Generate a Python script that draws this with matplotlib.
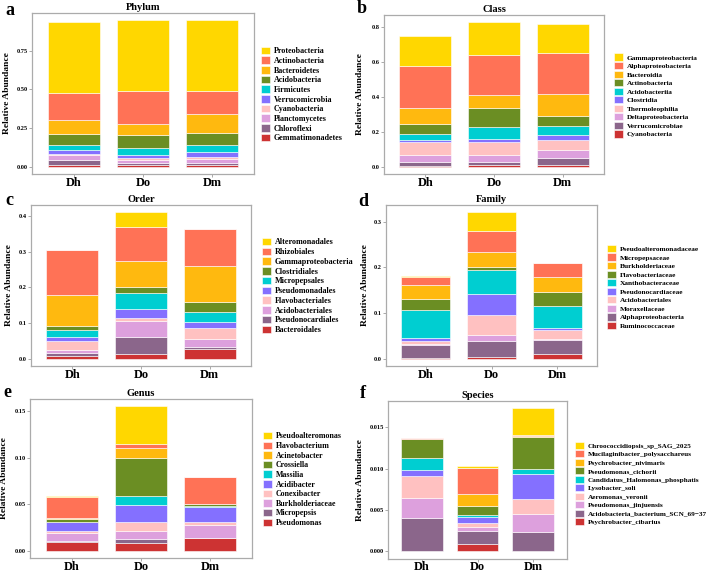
import matplotlib
matplotlib.use("Agg")
import matplotlib.pyplot as plt
import numpy as np
from matplotlib.patches import Patch
from matplotlib.ticker import FormatStrFormatter

plt.rcParams['font.family'] = ['Liberation Serif', 'DejaVu Serif']
plt.rcParams['font.weight'] = 'bold'

W, H = 709, 573
samples = ["Dh", "Do", "Dm"]
colors = ["#FFD700", "#FF7256", "#FFB90F", "#6B8E23", "#00CED1",
          "#8470FF", "#FFC1C1", "#DDA0DD", "#8B668B", "#CD3333"]

# legend order = top of stack first
phylum_taxa = ["Proteobacteria", "Actinobacteria", "Bacteroidetes", "Acidobacteria", "Firmicutes",
               "Verrucomicrobia", "Cyanobacteria", "Planctomycetes", "Chloroflexi", "Gemmatimonadetes"]
phylum_dh = [0.458, 0.172, 0.094, 0.069, 0.037, 0.024, 0.005, 0.035, 0.028, 0.013]
phylum_do = [0.458, 0.211, 0.076, 0.085, 0.042, 0.021, 0.014, 0.019, 0.013, 0.009]
phylum_dm = [0.455, 0.149, 0.128, 0.076, 0.044, 0.035, 0.013, 0.026, 0.013, 0.009]

class_taxa = ["Gammaproteobacteria", "Alphaproteobacteria", "Bacteroidia", "Actinobacteria", "Acidobacteriia",
              "Clostridia", "Thermoleophilia", "Deltaproteobacteria", "Verrucomicrobiae", "Cyanobacteria"]
class_dh = [0.169, 0.243, 0.091, 0.058, 0.033, 0.011, 0.074, 0.040, 0.028, 0.002]
class_do = [0.188, 0.230, 0.073, 0.108, 0.072, 0.015, 0.072, 0.040, 0.022, 0.008]
class_dm = [0.165, 0.235, 0.125, 0.055, 0.053, 0.028, 0.057, 0.048, 0.036, 0.013]

order_taxa = ["Alteromonadales", "Rhizobiales", "Gammaproteobacteria", "Clostridiales", "Micropepsales",
              "Pseudomonadales", "Flavobacteriales", "Acidobacteriales", "Pseudonocardiales", "Bacteroidales"]
order_dh = [0.001, 0.125, 0.088, 0.011, 0.019, 0.012, 0.026, 0.009, 0.0065, 0.0085]
order_do = [0.042, 0.096, 0.072, 0.016, 0.045, 0.025, 0.009, 0.045, 0.048, 0.013]
order_dm = [0.002, 0.104, 0.099, 0.029, 0.029, 0.017, 0.029, 0.022, 0.006, 0.028]

family_taxa = ["Pseudoalteromonadaceae", "Micropepsaceae", "Burkholderiaceae", "Flavobacteriaceae",
               "Xanthobacteraceae", "Pseudonocardiaceae", "Acidobacteriales", "Moraxellaceae",
               "Alphaproteobacteria", "Ruminococcaceae"]
family_dh = [0.001, 0.019, 0.031, 0.023, 0.061, 0.007, 0.006, 0.003, 0.028, 0.002]
family_do = [0.042, 0.046, 0.031, 0.007, 0.053, 0.047, 0.042, 0.015, 0.034, 0.004]
family_dm = [0.001, 0.030, 0.033, 0.030, 0.048, 0.005, 0.019, 0.003, 0.031, 0.010]

genus_taxa = ["Pseudoalteromonas", "Flavobacterium", "Acinetobacter", "Crossiella", "Massilia",
              "Acidibacter", "Conexibacter", "Burkholderiaceae", "Micropepsis", "Pseudomonas"]
genus_dh = [0.001, 0.023, 0.001, 0.0027, 0.0003, 0.0094, 0.0026, 0.0087, 0.0007, 0.0096]
genus_do = [0.041, 0.004, 0.011, 0.040, 0.010, 0.018, 0.010, 0.008, 0.005, 0.008]
genus_dm = [0.0005, 0.0287, 0.0003, 0.0025, 0.001, 0.0155, 0.003, 0.014, 0.0005, 0.0135]

species_taxa = ["Chroococcidiopsis_sp_SAG_2025", "Mucilaginibacter_polysacchareus", "Psychrobacter_nivimaris",
                "Pseudomonas_cichorii", "Candidatus_Halomonas_phosphatis", "Lysobacter_soli",
                "Aeromonas_veronii", "Pseudomonas_jinjuensis", "Acidobacteria_bacterium_SCN_69\u221237",
                "Psychrobacter_cibarius"]
species_dh = [0.00002, 0.00005, 0.00001, 0.0023, 0.00142, 0.00075, 0.0027, 0.00246, 0.00394, 0.00003]
species_do = [0.00026, 0.0032, 0.0014, 0.00113, 0.00027, 0.00065, 0.00055, 0.0005, 0.00153, 0.00087]
species_dm = [0.00321, 0.0002, 0.00002, 0.00397, 0.00059, 0.00298, 0.00179, 0.00218, 0.00234, 0.00001]

panels = [
    # letter, title, taxa, values, ticks, fmt, axes box px, legend (x, ycenter) px, legend font,
    # ylabel x px, letter pos px
    ("a", "Phylum", phylum_taxa, [phylum_dh, phylum_do, phylum_dm], [0, 0.25, 0.5, 0.75], "%.2f",
     (32, 13, 254, 174), (261, 94.5), 5.8, 7, (5, 15)),
    ("b", "Class", class_taxa, [class_dh, class_do, class_dm], [0, 0.2, 0.4, 0.6, 0.8], "%.1f",
     (384, 15, 604, 174), (614, 95.5), 5.3, 360, (357, 13)),
    ("c", "Order", order_taxa, [order_dh, order_do, order_dm], [0, 0.1, 0.2, 0.3, 0.4], "%.1f",
     (31, 205, 251, 366), (262, 286), 5.9, 9, (5, 205)),
    ("d", "Family", family_taxa, [family_dh, family_do, family_dm], [0, 0.1, 0.2, 0.3], "%.1f",
     (386, 205, 597, 366), (607, 287), 5.3, 365, (358, 206)),
    ("e", "Genus", genus_taxa, [genus_dh, genus_do, genus_dm], [0, 0.05, 0.10, 0.15], "%.2f",
     (30, 399, 252, 558), (263, 479.5), 5.7, 4.5, (3, 397)),
    ("f", "Species", species_taxa, [species_dh, species_do, species_dm], [0, 0.005, 0.010, 0.015], "%.3f",
     (388, 401, 567, 558.5), (575, 483.5), 5.2, 360, (360, 398)),
]

fig = plt.figure(figsize=(W / 100, H / 100), dpi=100)

for letter, title, taxa, values, ticks, fmt, box, leg, lfs, ylab_x, let_pos in panels:
    x0, y0, x1, y1 = box
    ax = fig.add_axes([x0 / W, 1 - y1 / H, (x1 - x0) / W, (y1 - y0) / H])
    vals = np.array(values)
    x = np.arange(1, 4)
    bottom = np.zeros(3)
    for k in range(len(taxa) - 1, -1, -1):
        ax.bar(x, vals[:, k], 0.75, bottom=bottom, color=colors[k], edgecolor="white", linewidth=0.4)
        bottom += vals[:, k]
    top = bottom.max()
    ax.set_ylim(-0.05 * top, 1.05 * top)
    ax.set_xlim(0.4, 3.6)
    ax.set_xticks(x)
    ax.set_xticklabels(samples)
    ax.set_yticks(ticks)
    ax.yaxis.set_major_formatter(FormatStrFormatter(fmt))
    ax.tick_params(axis="y", length=2, width=0.5, color="#888888", labelsize=4.6, pad=1)
    ax.tick_params(axis="x", length=2, width=0.5, color="#888888", labelsize=8.8, pad=0)
    for s in ax.spines.values():
        s.set_color("#ABABAB")
        s.set_linewidth(0.9)
    ax.set_title(title, fontsize=7.5, fontweight="bold", pad=2)
    ax.set_ylabel("Relative Abundance", fontsize=6.8, fontweight="bold")
    ax.yaxis.set_label_coords((ylab_x - x0) / (x1 - x0), 0.5)
    ax.yaxis.label.set_va("center")

    # legend: ~8.5 px swatches, rows every ~9.7 px
    fs_px = lfs * 100 / 72
    handles = [Patch(facecolor=c, edgecolor="white", linewidth=0.4) for c in colors]
    ax.legend(handles, taxa, loc="center left", bbox_to_anchor=(leg[0] / W, 1 - leg[1] / H),
              bbox_transform=fig.transFigure, frameon=False, fontsize=lfs,
              handlelength=8.8 / fs_px, handleheight=8.5 / fs_px, handletextpad=4.0 / fs_px,
              labelspacing=1.2 / fs_px, borderpad=0, borderaxespad=0)

    fig.text(let_pos[0] / W, 1 - let_pos[1] / H, letter, fontsize=13, fontweight="bold", va="baseline")

fig.savefig("out.png", dpi=100)
